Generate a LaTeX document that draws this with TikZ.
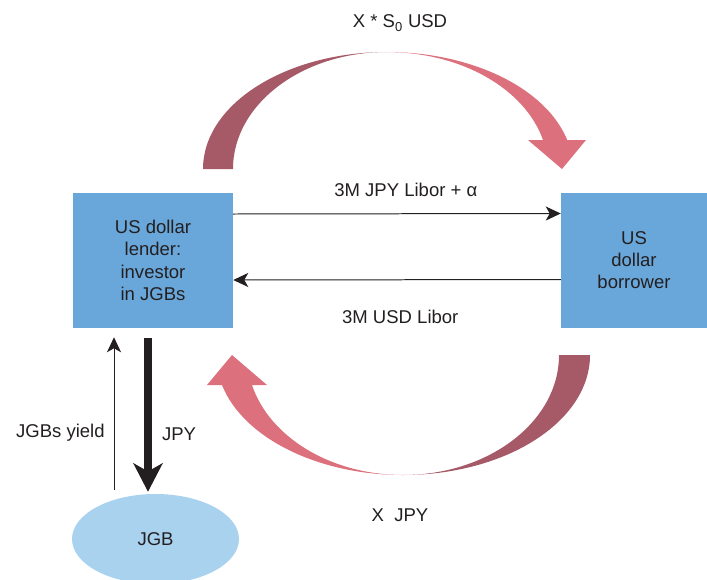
\documentclass[tikz,border=0pt]{standalone}
\usepackage{fontspec}
\setmainfont{Liberation Sans}
\usetikzlibrary{arrows.meta,shapes.geometric}
\definecolor{boxblue}{HTML}{69A7DA}
\definecolor{ovalblue}{HTML}{A9D2EF}
\definecolor{flowdark}{HTML}{A65A68}
\definecolor{flowlight}{HTML}{DC707D}
\definecolor{inkgray}{HTML}{231F20}
\begin{document}
\begin{tikzpicture}[x=0.03cm, y=0.03cm,
    every node/.style={text=inkgray, font=\fontsize{15.8}{19}\selectfont},
    party/.style={fill=boxblue, minimum width=4.8cm, minimum height=4.05cm, align=center, inner sep=0pt},
    flow/.style={draw=inkgray, line width=0.85pt, -{Stealth[length=0.45cm, width=0.42cm, inset=0.12cm]}},
    cash/.style={draw=inkgray, line width=6pt, -{Stealth[length=0.85cm, width=0.87cm, inset=0.24cm]}}]
            \useasboundingbox (0,0) rectangle (707,-579);

            \node[party] (lender) at (153,-260.5) {US dollar\\lender:\\investor\\in JGBs};
            \node[party, minimum width=4.38cm] (borrower) at (634,-260) {US\\dollar\\borrower};
            \node[ellipse, fill=ovalblue, minimum width=5.01cm, minimum height=2.7cm, inner sep=0pt] (jgb) at (155.5,-539) {JGB};

            \fill[flowdark] (203,-169) arc[start angle=180, end angle=90, x radius=184, y radius=117]
                arc[start angle=90, end angle=180, x radius=154, y radius=117] -- cycle;
            \fill[flowlight] (387,-52) arc[start angle=90, end angle=14.4, x radius=186, y radius=117]
                -- (543,-140) arc[start angle=14.4, end angle=90, x radius=161, y radius=117] -- cycle;
            \fill[flowlight] (528,-140) -- (586,-140) -- (562,-169) -- cycle;
            \node (usdleg) at (400,-23) {X * S\textsubscript{0} USD};

            \fill[flowdark] (590,-355) arc[start angle=0, end angle=-90, x radius=187, y radius=120]
                arc[start angle=-90, end angle=0, x radius=156, y radius=120] -- cycle;
            \fill[flowlight] (403,-475) arc[start angle=-90, end angle=-165.5, x radius=187, y radius=120]
                -- (252,-385) arc[start angle=-165.5, end angle=-90, x radius=156, y radius=120] -- cycle;
            \fill[flowlight] (207,-385) -- (267,-385) -- (232,-355) -- cycle;
            \node (jpyleg) at (400,-515) {X~~JPY};

            \draw[flow] ([yshift=1.395cm]lender.east) -- node[pos=0.527, yshift=0.72cm] (jpyrate) {3M JPY Libor + α} ([yshift=1.395cm]borrower.west);
            \draw[flow] ([yshift=-0.585cm]borrower.west) -- node[pos=0.49, yshift=-1.11cm] (usdrate) {3M USD Libor} ([yshift=-0.585cm]lender.east);

            \coordinate (yieldtop) at ([xshift=-1.17cm]lender.south);
            \coordinate (cashtop) at ([xshift=-0.15cm]lender.south);
            \draw[flow, shorten <=0.12cm, shorten >=0.27cm] (yieldtop |- jgb.north) -- node[pos=0.37, left=0.15cm] (yieldlab) {JGBs yield} (yieldtop);
            \draw[cash, shorten <=0.3cm, shorten >=0.06cm] (cashtop) -- node[pos=0.64, right=0.2cm] (cashlab) {JPY} (cashtop |- jgb.north);
\end{tikzpicture}
\end{document}
